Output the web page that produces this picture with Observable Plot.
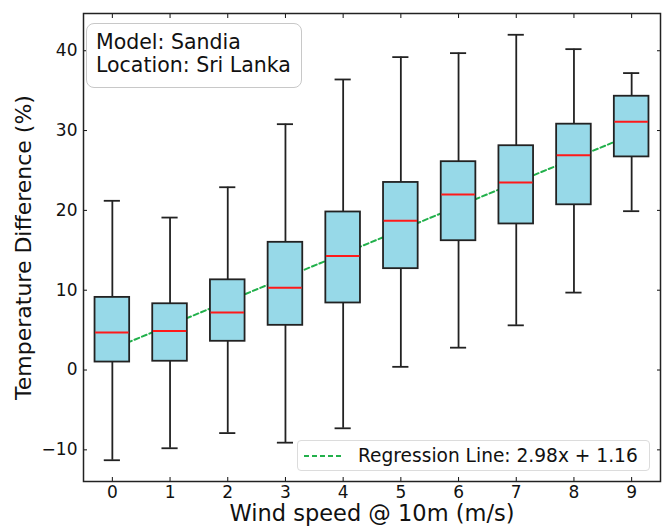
<!DOCTYPE html>
<html>
<head>
<meta charset="utf-8">
<script src="https://cdn.jsdelivr.net/npm/d3@7"></script>
<script src="https://cdn.jsdelivr.net/npm/@observablehq/plot@0.6"></script>
<style>
  body { margin: 0; background: #fff; }
  #wrap { position: relative; width: 668px; height: 526px; font-family: "DejaVu Sans", sans-serif; }
  #note { position: absolute; left: 86px; top: 23px; width: 216px; height: 65px; border: 1.3px solid #c8c8c8; border-radius: 8px; background: #fff; box-sizing: border-box; padding: 7px 0 0 9px; font-size: 20.5px; line-height: 23px; color: #111; white-space: nowrap; }
  #legend { position: absolute; left: 297px; top: 440px; width: 353px; height: 31px; border: 1.3px solid #dcdcdc; border-radius: 4px; background: #fff; box-sizing: border-box; display: flex; align-items: center; font-size: 18.6px; color: #111; white-space: nowrap; }
  #legend svg { margin: 0 14px 0 6px; }
</style>
</head>
<body>
<div id="wrap"></div>
<script>
// Data
const windSpeed = [0, 1, 2, 3, 4, 5, 6, 7, 8, 9];
const whiskerLow = [-11.3, -9.8, -7.9, -9.1, -7.3, 0.4, 2.8, 5.6, 9.7, 19.9];
const q1 = [1.0, 1.1, 3.6, 5.6, 8.4, 12.7, 16.2, 18.3, 20.7, 26.7];
const median = [4.7, 4.9, 7.2, 10.3, 14.3, 18.7, 22.0, 23.5, 26.9, 31.1];
const q3 = [9.1, 8.3, 11.3, 16.0, 19.8, 23.5, 26.1, 28.1, 30.8, 34.3];
const whiskerHigh = [21.2, 19.1, 22.9, 30.8, 36.4, 39.2, 39.7, 42.0, 40.2, 37.2];
const regSlope = 2.98;
const regIntercept = 1.16;
const binOffset = 0.5; // bin center offset of wind speed
const yTicks = [-10, 0, 10, 20, 30, 40];
const modelName = "Sandia";
const locationName = "Sri Lanka";

const boxes = windSpeed.map((x, i) => ({
  x, lo: whiskerLow[i], q1: q1[i], med: median[i], q3: q3[i], hi: whiskerHigh[i]
}));
const regression = windSpeed.map(x => ({x, y: regSlope * (x + binOffset) + regIntercept}));

const allVals = whiskerLow.concat(whiskerHigh);
const yMin = d3.min(allVals), yMax = d3.max(allVals);
const pad = (yMax - yMin) * 0.05;

const halfBox = 0.3, halfCap = 0.14;
const boxFill = "#97d9e8";
const green = "#22b04b";
const tickFont = 17;
const fmt = d => d < 0 ? "\u2212" + Math.abs(d) : String(d);

const chart = Plot.plot({
  width: 668,
  height: 526,
  marginLeft: 83,
  marginRight: 8,
  marginTop: 13,
  marginBottom: 45,
  style: {fontFamily: "DejaVu Sans, sans-serif", fontSize: "16px", color: "#111", background: "#fff"},
  x: {type: "linear", domain: [-0.5, 9.5]},
  y: {domain: [yMin - pad, yMax + pad]},
  marks: [
    Plot.line(regression, {x: "x", y: "y", stroke: green, strokeWidth: 2, strokeDasharray: "5,3"}),
    Plot.ruleX(boxes, {x: "x", y1: "lo", y2: "q1", stroke: "#222", strokeWidth: 1.8}),
    Plot.ruleX(boxes, {x: "x", y1: "q3", y2: "hi", stroke: "#222", strokeWidth: 1.8}),
    Plot.ruleY(boxes, {y: "lo", x1: d => d.x - halfCap, x2: d => d.x + halfCap, stroke: "#222", strokeWidth: 1.8}),
    Plot.ruleY(boxes, {y: "hi", x1: d => d.x - halfCap, x2: d => d.x + halfCap, stroke: "#222", strokeWidth: 1.8}),
    Plot.rect(boxes, {x1: d => d.x - halfBox, x2: d => d.x + halfBox, y1: "q1", y2: "q3", fill: boxFill, stroke: "#222", strokeWidth: 1.8}),
    Plot.ruleY(boxes, {y: "med", x1: d => d.x - halfBox + 0.01, x2: d => d.x + halfBox - 0.01, stroke: "#ff1a1a", strokeWidth: 2}),
    Plot.axisX(windSpeed, {anchor: "bottom", tickSize: -4, tickFormat: () => "", label: null}),
    Plot.axisX(windSpeed, {anchor: "top", tickSize: -4, tickFormat: () => "", label: null}),
    Plot.axisY(yTicks, {anchor: "left", tickSize: -4, tickFormat: () => "", label: null}),
    Plot.axisY(yTicks, {anchor: "right", tickSize: -4, tickFormat: () => "", label: null}),
    Plot.text(windSpeed, {x: d => d, text: fmt, frameAnchor: "bottom", lineAnchor: "top", dy: 4, fontSize: tickFont}),
    Plot.text(yTicks, {y: d => d, text: fmt, frameAnchor: "left", textAnchor: "end", lineAnchor: "middle", dx: -6, fontSize: tickFont}),
    Plot.frame({stroke: "#222", strokeWidth: 1.5}),
    Plot.text(["Temperature Difference (%)"], {frameAnchor: "left", textAnchor: "middle", lineAnchor: "middle", rotate: -90, dx: -60, fontSize: 22}),
    Plot.text(["Wind speed @ 10m (m/s)"], {frameAnchor: "bottom", textAnchor: "middle", lineAnchor: "middle", dy: 32, fontSize: 22.5})
  ]
});

const wrap = document.getElementById("wrap");
wrap.appendChild(chart);

const note = document.createElement("div");
note.id = "note";
note.innerHTML = `Model: ${modelName}<br>Location: ${locationName}`;
wrap.appendChild(note);

const legend = document.createElement("div");
legend.id = "legend";
legend.innerHTML = `<svg width="40" height="6"><line x1="0" y1="3" x2="40" y2="3" stroke="${green}" stroke-width="2" stroke-dasharray="5,3"/></svg><span>Regression Line: ${regSlope.toFixed(2)}x + ${regIntercept.toFixed(2)}</span>`;
wrap.appendChild(legend);
</script>
</body>
</html>
